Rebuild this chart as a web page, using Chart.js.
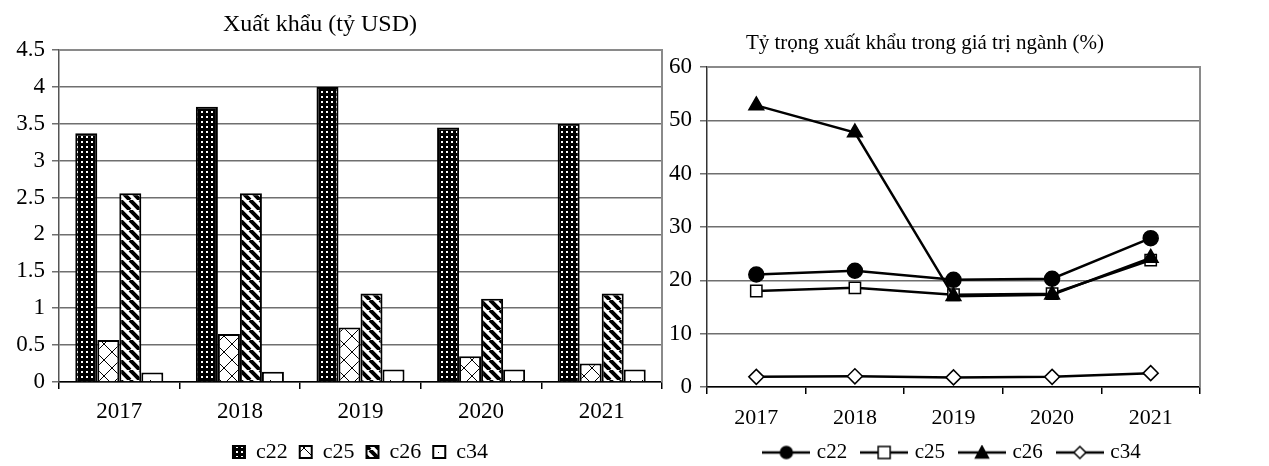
<!DOCTYPE html>
<html>
<head>
<meta charset="utf-8">
<script src="https://cdn.jsdelivr.net/npm/chart.js@4.4.1/dist/chart.umd.min.js"></script>
<style>
  body { margin: 0; background: #fff; }
  #wrap { position: relative; width: 1269px; height: 466px; overflow: hidden; }
  canvas { position: absolute; top: 0; }
  #exportChart { left: 0; }
  #shareChart { left: 640px; }
</style>
</head>
<body>
<div id="wrap">
  <canvas id="exportChart" width="665" height="473"></canvas>
  <canvas id="shareChart" width="629" height="473"></canvas>
</div>
<script>
// data
const years = ['2017', '2018', '2019', '2020', '2021'];
const seriesNames = ['c22', 'c25', 'c26', 'c34'];

const exportTitle = 'Xuất khẩu (tỷ USD)';
const exportC22 = [3.37, 3.73, 4.0, 3.45, 3.5];
const exportC25 = [0.57, 0.65, 0.74, 0.35, 0.25];
const exportC26 = [2.56, 2.56, 1.2, 1.13, 1.2];
const exportC34 = [0.13, 0.14, 0.17, 0.17, 0.17];

const shareTitle = 'Tỷ trọng xuất khẩu trong giá trị ngành (%)';
const shareC22 = [21.1, 21.8, 20.1, 20.3, 27.9];
const shareC25 = [18.0, 18.6, 17.3, 17.5, 23.8];
const shareC26 = [52.8, 47.7, 17.0, 17.3, 24.2];
const shareC34 = [1.9, 2.0, 1.8, 1.9, 2.6];

const FONT = "'Liberation Serif', 'Times New Roman', serif";

// fill patterns for the bars
function makePattern(size, draw) {
  const c = document.createElement('canvas');
  c.width = size; c.height = size;
  const g = c.getContext('2d');
  draw(g, size);
  return document.createElement('canvas').getContext('2d').createPattern(c, 'repeat');
}
const dotsDense = makePattern(5, (g, s) => {
  g.fillStyle = '#000'; g.fillRect(0, 0, s, s);
  g.fillStyle = '#fff'; g.fillRect(1, 1, 2, 2);
});
const crossHatch = makePattern(16, (g, s) => {
  g.fillStyle = '#fff'; g.fillRect(0, 0, s, s);
  g.strokeStyle = '#000'; g.lineWidth = 1;
  g.beginPath();
  g.moveTo(0, 0); g.lineTo(s, s);
  g.moveTo(s, 0); g.lineTo(0, s);
  g.stroke();
});
const wideStripes = makePattern(10, (g, s) => {
  g.fillStyle = '#fff'; g.fillRect(0, 0, s, s);
  g.strokeStyle = '#000'; g.lineWidth = 4;
  g.beginPath();
  for (let k = -1; k <= 1; k++) { g.moveTo(k * s, 0); g.lineTo(k * s + s, s); }
  g.stroke();
});
const dotsSparse = makePattern(12, (g, s) => {
  g.fillStyle = '#fff'; g.fillRect(0, 0, s, s);
  g.fillStyle = '#000'; g.fillRect(6, 8, 1, 1);
});

// legend icons: line with marker in the middle
function legendIcon(style, fill) {
  const c = document.createElement('canvas');
  c.width = 48; c.height = 16;
  const g = c.getContext('2d');
  const m = 24;
  g.strokeStyle = '#000'; g.lineWidth = 2.5;
  g.beginPath(); g.moveTo(0, 8); g.lineTo(48, 8); g.stroke();
  g.fillStyle = fill; g.lineWidth = 1.5;
  g.beginPath();
  if (style === 'circle') g.arc(m, 8, 6, 0, Math.PI * 2);
  if (style === 'rect') g.rect(m - 6, 2, 12, 12);
  if (style === 'triangle') { g.moveTo(m, 1.5); g.lineTo(m + 6.5, 13.5); g.lineTo(m - 6.5, 13.5); g.closePath(); }
  if (style === 'rectRot') { g.moveTo(m, 2); g.lineTo(m + 6, 8); g.lineTo(m, 14); g.lineTo(m - 6, 8); g.closePath(); }
  g.fill(); g.stroke();
  return c;
}

const plainTitle = {
  id: 'plainTitle',
  afterDraw(chart, args, opts) {
    const ctx = chart.ctx;
    ctx.save();
    ctx.font = opts.font;
    ctx.fillStyle = '#000';
    ctx.textAlign = 'center';
    ctx.textBaseline = 'middle';
    ctx.fillText(opts.text, opts.x, opts.y);
    ctx.restore();
  }
};
const frame = {
  id: 'frame',
  beforeDatasetsDraw(chart) {
    const { ctx, chartArea: a } = chart;
    ctx.save();
    ctx.strokeStyle = '#8a8a8a'; ctx.lineWidth = 2;
    ctx.beginPath();
    ctx.moveTo(a.left, a.top); ctx.lineTo(a.right, a.top); ctx.lineTo(a.right, a.bottom);
    ctx.stroke();
    ctx.restore();
  }
};

new Chart(document.getElementById('exportChart'), {
  type: 'bar',
  data: {
    labels: years,
    datasets: [
      { label: seriesNames[0], data: exportC22, backgroundColor: dotsDense },
      { label: seriesNames[1], data: exportC25, backgroundColor: crossHatch },
      { label: seriesNames[2], data: exportC26, backgroundColor: wideStripes },
      { label: seriesNames[3], data: exportC34, backgroundColor: dotsSparse }
    ].map(d => Object.assign(d, { borderColor: '#000', borderWidth: 2, borderSkipped: 'bottom' }))
  },
  options: {
    responsive: false,
    animation: false,
    categoryPercentage: 0.73,
    barPercentage: 1.0,
    layout: { padding: { top: 50, right: 3, left: 0, bottom: 0 } },
    scales: {
      x: {
        grid: { offset: true, drawOnChartArea: false, tickLength: 7, color: '#000', lineWidth: 1.5 },
        border: { color: '#000', width: 1.5 },
        ticks: { font: { family: FONT, size: 23 }, color: '#000', padding: 9 },
        afterFit(s) { s.height = 47; }
      },
      y: {
        min: 0, max: 4.5,
        ticks: {
          stepSize: 0.5, font: { family: FONT, size: 23 }, color: '#000', padding: 7,
          callback: v => String(Number(v.toFixed(1)))
        },
        grid: { color: '#6f6f6f', lineWidth: 1.5, tickLength: 7 },
        border: { color: '#555', width: 1.5 },
        afterFit(s) { s.width = 59; }
      }
    },
    plugins: {
      tooltip: { enabled: false },
      legend: {
        position: 'bottom',
        fullSize: false,
        labels: { font: { family: FONT, size: 22 }, color: '#000', boxWidth: 12, boxHeight: 12, padding: 12 }
      },
      plainTitle: { text: exportTitle, x: 320, y: 25, font: '24px ' + FONT }
    }
  },
  plugins: [plainTitle, frame]
});

const lineStyles = ['circle', 'rect', 'triangle', 'rectRot'];
const lineFills = ['#000', '#fff', '#000', '#fff'];
const lineRadius = [7.5, 8, 8.5, 7.5];
const shareSeries = [shareC22, shareC25, shareC26, shareC34];
const icons = lineStyles.map((s, i) => legendIcon(s, lineFills[i]));

new Chart(document.getElementById('shareChart'), {
  type: 'line',
  data: {
    labels: years,
    datasets: shareSeries.map((vals, i) => ({
      label: seriesNames[i],
      data: vals,
      borderColor: '#000',
      borderWidth: 2.5,
      pointStyle: lineStyles[i],
      pointRadius: lineRadius[i],
      pointBackgroundColor: lineFills[i],
      pointBorderColor: '#000',
      pointBorderWidth: 1.5,
      order: 4 - i,
      tension: 0
    }))
  },
  options: {
    responsive: false,
    animation: false,
    layout: { padding: { top: 67, right: 69, left: 0, bottom: 0 } },
    scales: {
      x: {
        offset: true,
        grid: { offset: true, drawOnChartArea: false, tickLength: 7, color: '#000', lineWidth: 1.5 },
        border: { color: '#000', width: 1.5 },
        ticks: { font: { family: FONT, size: 22 }, color: '#000', padding: 11 },
        afterFit(s) { s.height = 38; }
      },
      y: {
        min: 0, max: 60,
        ticks: { stepSize: 10, font: { family: FONT, size: 23 }, color: '#000', padding: 8 },
        grid: { color: '#6f6f6f', lineWidth: 1.5, tickLength: 7 },
        border: { color: '#333', width: 1.5 },
        afterFit(s) { s.width = 67; }
      }
    },
    plugins: {
      tooltip: { enabled: false },
      legend: {
        position: 'bottom',
        fullSize: false,
        labels: {
          font: { family: FONT, size: 21 }, color: '#000', padding: 17,
          usePointStyle: true, pointStyleWidth: 40,
          generateLabels(chart) {
            return chart.data.datasets.map((ds, i) => ({
              text: ds.label, pointStyle: icons[i], fillStyle: '#000', strokeStyle: '#000',
              lineWidth: 0, hidden: false, datasetIndex: i, fontColor: '#000'
            }));
          }
        }
      },
      plainTitle: { text: shareTitle, x: 285, y: 43, font: '21px ' + FONT }
    }
  },
  plugins: [plainTitle, frame]
});
</script>
</body>
</html>
